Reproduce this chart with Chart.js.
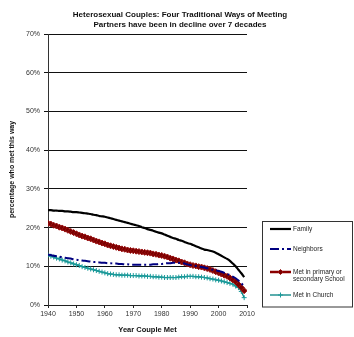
<!DOCTYPE html>
<html>
<head>
<meta charset="utf-8">
<script src="https://cdn.jsdelivr.net/npm/chart.js@4/dist/chart.umd.min.js"></script>
<style>
  html, body { margin: 0; padding: 0; background: #fff; }
  #wrap { position: relative; width: 354px; height: 337px; }
</style>
</head>
<body>
<div id="wrap"><canvas id="c" width="354" height="337"></canvas></div>
<script>
// Year each couple met
const years = [
  1940,1941,1942,1943,1944,1945,1946,1947,1948,1949,
  1950,1951,1952,1953,1954,1955,1956,1957,1958,1959,
  1960,1961,1962,1963,1964,1965,1966,1967,1968,1969,
  1970,1971,1972,1973,1974,1975,1976,1977,1978,1979,
  1980,1981,1982,1983,1984,1985,1986,1987,1988,1989,
  1990,1991,1992,1993,1994,1995,1996,1997,1998,1999,
  2000,2001,2002,2003,2004,2005,2006,2007,2008,2009
];

// Percentage of couples who met through each way
const family = [
  24.5,24.5,24.4,24.4,24.3,24.3,24.2,24.2,24.1,24.0,
  24.0,23.9,23.8,23.7,23.6,23.5,23.3,23.2,23.0,22.9,
  22.8,22.6,22.4,22.2,22.0,21.8,21.6,21.4,21.2,21.0,
  20.8,20.6,20.4,20.1,19.9,19.6,19.4,19.2,18.9,18.7,
  18.5,18.2,17.9,17.6,17.3,17.1,16.8,16.6,16.3,16.0,
  15.8,15.5,15.2,14.9,14.6,14.3,14.2,14.0,13.8,13.5,
  13.1,12.7,12.3,11.9,11.4,10.7,10.0,9.1,8.2,7.2
];
const neighbors = [
  13.0,12.9,12.7,12.6,12.5,12.3,12.2,12.1,12.0,11.8,
  11.7,11.6,11.5,11.4,11.3,11.2,11.1,11.1,11.0,10.9,
  10.9,10.8,10.8,10.7,10.7,10.6,10.6,10.5,10.5,10.4,
  10.4,10.4,10.4,10.4,10.4,10.4,10.4,10.5,10.5,10.6,
  10.6,10.7,10.8,10.8,10.9,10.9,10.9,10.8,10.7,10.5,
  10.3,10.2,10.1,10.0,9.8,9.7,9.5,9.3,9.1,9.0,
  8.8,8.6,8.3,8.0,7.7,7.3,6.9,6.3,5.6,4.9
];
const school = [
  21.1,20.9,20.6,20.4,20.1,19.9,19.6,19.3,19.0,18.7,
  18.4,18.1,17.8,17.6,17.3,17.1,16.8,16.5,16.3,16.0,
  15.8,15.5,15.3,15.1,14.9,14.7,14.5,14.4,14.2,14.1,
  14.0,13.9,13.8,13.7,13.6,13.5,13.4,13.2,13.1,12.9,
  12.8,12.6,12.4,12.1,11.9,11.6,11.4,11.1,10.9,10.6,
  10.4,10.2,10.1,9.9,9.8,9.6,9.4,9.2,8.9,8.6,
  8.3,8.0,7.7,7.4,7.0,6.5,6.0,5.3,4.5,3.7
];
const church = [
  12.9,12.6,12.4,12.1,11.9,11.6,11.4,11.1,10.9,10.6,
  10.4,10.2,9.9,9.7,9.5,9.3,9.1,8.9,8.7,8.5,
  8.3,8.1,8.0,7.9,7.8,7.8,7.7,7.7,7.7,7.6,
  7.6,7.6,7.5,7.5,7.5,7.4,7.4,7.3,7.3,7.2,
  7.2,7.1,7.1,7.1,7.1,7.1,7.2,7.3,7.3,7.4,
  7.4,7.4,7.3,7.3,7.2,7.1,7.0,6.8,6.7,6.5,
  6.4,6.2,6.0,5.8,5.6,5.4,4.9,4.5,3.5,1.9
];

const yTicks = [0, 10, 20, 30, 40, 50, 60, 70];
const xTicks = [1940, 1950, 1960, 1970, 1980, 1990, 2000, 2010];

const titleLines = [
  'Heterosexual Couples: Four Traditional Ways of Meeting',
  'Partners have been in decline over 7 decades'
];
const seriesNames = ['Family', 'Neighbors', ['Met in primary or', 'secondary School'], 'Met in Church'];

const FONT = "'Liberation Sans', Arial, sans-serif";
const pts = vals => vals.map((v, i) => ({ x: years[i], y: v }));

// Title and boxed legend drawn beside the plot
const decorations = {
  id: 'decorations',
  afterDraw(chart) {
    const ctx = chart.ctx;
    ctx.save();
    ctx.fillStyle = '#111';
    ctx.textAlign = 'center';
    ctx.textBaseline = 'middle';
    ctx.font = 'bold 8px ' + FONT;
    ctx.fillText(titleLines[0], 180, 15);
    ctx.fillText(titleLines[1], 180, 24.5);

    // legend frame
    ctx.strokeStyle = '#333';
    ctx.lineWidth = 1;
    ctx.strokeRect(262.5, 221.5, 90, 85.5);

    const x0 = 270, x1 = 291, tx = 293;
    const rows = [229, 249, 272, 295];
    const ds = chart.data.datasets;
    ctx.textAlign = 'left';
    ctx.font = '6.5px ' + FONT;

    rows.forEach((y, i) => {
      const d = ds[i];
      ctx.save();
      ctx.strokeStyle = d.borderColor;
      ctx.lineWidth = d.borderWidth;
      ctx.setLineDash(d.borderDash || []);
      ctx.beginPath();
      ctx.moveTo(x0, y);
      ctx.lineTo(x1, y);
      ctx.stroke();
      ctx.restore();
      if (d.pointRadius > 0) {
        ctx.save();
        ctx.fillStyle = d.pointBackgroundColor;
        ctx.strokeStyle = d.pointBorderColor;
        ctx.lineWidth = 1;
        const cx = (x0 + x1) / 2, r = 2.5;
        ctx.beginPath();
        if (d.pointStyle === 'rectRot') {
          ctx.moveTo(cx, y - r); ctx.lineTo(cx + r, y); ctx.lineTo(cx, y + r); ctx.lineTo(cx - r, y);
          ctx.closePath(); ctx.fill(); ctx.stroke();
        } else {
          ctx.moveTo(cx, y - r); ctx.lineTo(cx, y + r);
          ctx.moveTo(cx - r, y); ctx.lineTo(cx + r, y);
          ctx.stroke();
        }
        ctx.restore();
      }
      ctx.fillStyle = '#222';
      const name = seriesNames[i];
      if (Array.isArray(name)) {
        name.forEach((t, k) => ctx.fillText(t, tx, y + k * 6.8));
      } else {
        ctx.fillText(name, tx, y);
      }
    });
    ctx.restore();
  }
};

new Chart(document.getElementById('c'), {
  type: 'line',
  data: {
    datasets: [
      { label: 'Family', data: pts(family), borderColor: '#000', borderWidth: 2.2,
        pointRadius: 0, tension: 0.3 },
      { label: 'Neighbors', data: pts(neighbors), borderColor: '#000080', borderWidth: 2,
        borderDash: [9, 3, 2, 3], pointRadius: 0, tension: 0.3 },
      { label: 'Met in primary or secondary School', data: pts(school), borderColor: '#8b0000',
        borderWidth: 2.5, pointStyle: 'rectRot', pointRadius: 3,
        pointBackgroundColor: '#7a0000', pointBorderColor: '#9a1010', pointBorderWidth: 1, tension: 0.3 },
      { label: 'Met in Church', data: pts(church), borderColor: '#008080', borderWidth: 1.3,
        pointStyle: 'cross', pointRadius: 2.5,
        pointBackgroundColor: '#008080', pointBorderColor: '#1a9a9a', pointBorderWidth: 1, tension: 0.3 }
    ]
  },
  options: {
    responsive: false,
    animation: false,
    events: [],
    layout: { padding: { left: 0, right: 107, top: 34, bottom: 0 } },
    plugins: { legend: { display: false }, title: { display: false }, tooltip: { enabled: false } },
    scales: {
      x: {
        type: 'linear',
        min: 1940, max: 2010,
        afterFit(s) { s.height = 32; },
        afterBuildTicks(s) { s.ticks = xTicks.map(v => ({ value: v })); },
        ticks: { callback: v => String(v), font: { family: FONT, size: 7 }, color: '#333',
                 padding: 2, maxRotation: 0, autoSkip: false },
        grid: { drawOnChartArea: false, drawTicks: true, tickLength: 3, color: '#222' },
        border: { color: '#222', width: 1 },
        title: { display: true, text: 'Year Couple Met', font: { family: FONT, size: 7.5, weight: 'bold' },
                 color: '#111', padding: { top: 0, bottom: 2.5 } }
      },
      y: {
        min: 0, max: 70,
        afterFit(s) { s.width = 48; },
        afterBuildTicks(s) { s.ticks = yTicks.map(v => ({ value: v })); },
        ticks: { callback: v => v + '%', font: { family: FONT, size: 7 }, color: '#333', padding: 4 },
        grid: { color: '#111', lineWidth: 1, drawTicks: true, tickLength: 4 },
        border: { color: '#333', width: 1 },
        title: { display: true, text: 'percentage who met this way',
                 font: { family: FONT, size: 7, weight: 'bold' }, color: '#111',
                 padding: { top: 8, bottom: 0 } }
      }
    }
  },
  plugins: [decorations]
});
</script>
</body>
</html>
